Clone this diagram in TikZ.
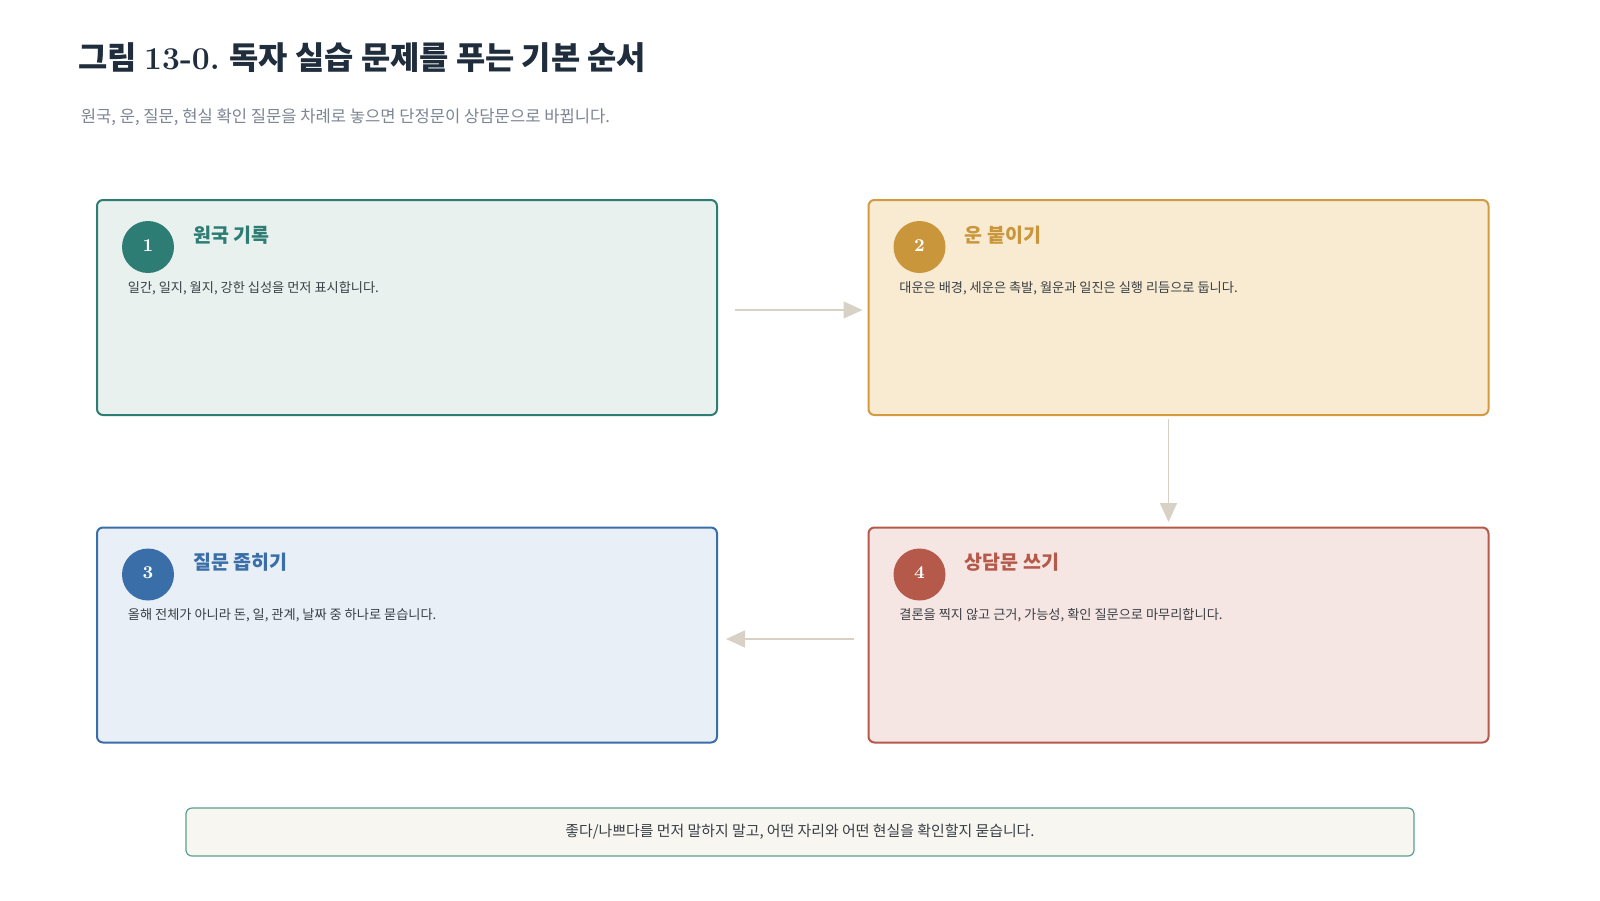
\documentclass[tikz,border=0pt]{standalone}
\usepackage{fontspec}
\newfontfamily\kr{Noto Sans CJK KR}
\usetikzlibrary{arrows.meta}
\definecolor{titlec}{HTML}{1F2D3D}
\definecolor{subc}{HTML}{7C8593}
\definecolor{descc}{HTML}{3A3F45}
\definecolor{tealc}{HTML}{2E7D74}
\definecolor{tealf}{HTML}{E8F1EE}
\definecolor{goldc}{HTML}{C9963C}
\definecolor{goldb}{HTML}{D49A42}
\definecolor{goldf}{HTML}{F8EBD2}
\definecolor{bluec}{HTML}{3A6EA8}
\definecolor{bluef}{HTML}{E9EFF7}
\definecolor{redc}{HTML}{B55A4A}
\definecolor{redf}{HTML}{F6E6E3}
\definecolor{arrc}{HTML}{D8D2C6}
\definecolor{notef}{HTML}{F7F6F1}
\definecolor{noteb}{HTML}{5A9E94}
\newcommand{\dg}[1]{\raisebox{1.5pt}{#1}}
\tikzset{
  stepbox/.style={draw, line width=1pt, rounded corners=3pt, minimum width=310pt, minimum height=107.5pt, inner sep=0pt},
  numdot/.style={circle, minimum size=26pt, inner sep=0pt, text=white, font=\rmfamily\bfseries\fontsize{9}{9}\selectfont},
  headtxt/.style={anchor=west, inner sep=0pt, font=\kr\bfseries\fontsize{9.75}{9.75}\selectfont},
  desctxt/.style={anchor=west, inner sep=0pt, text=descc, font=\kr\fontsize{6.6}{6.6}\selectfont},
  flow/.style={draw=arrc, line width=0.75pt, -{Triangle[length=9.5pt, width=8.5pt]}}
}
\begin{document}
\begin{tikzpicture}[x=0.5pt, y=-0.5pt]
\useasboundingbox[fill=white] (0,0) rectangle (1600,900);
% title
\node[anchor=west, inner sep=0pt, text=titlec, font=\kr\bfseries\fontsize{15.9}{15.9}\selectfont] (title) at (78,58) {그림 {\rmfamily\bfseries 13-0.} 독자 실습 문제를 푸는 기본 순서};
\node[anchor=west, inner sep=0pt, text=subc, font=\kr\fontsize{8.3}{8.3}\selectfont] (sub) at (80.5,117) {원국, 운, 질문, 현실 확인 질문을 차례로 놓으면 단정문이 상담문으로 바뀝니다.};
% boxes
\node[stepbox, draw=tealc, fill=tealf] (b1) at (407,307.5) {};
\node[stepbox, draw=goldb, fill=goldf] (b2) at (1178.5,307.5) {};
\node[stepbox, draw=bluec, fill=bluef] (b3) at (407,635) {};
\node[stepbox, draw=redc, fill=redf] (b4) at (1178.5,635) {};
% box 1
\node[numdot, fill=tealc] (n1) at (148,247) {\dg{1}};
\node[headtxt, text=tealc] (h1) at (193,235) {원국 기록};
\node[desctxt] (d1) at (127.5,288) {일간, 일지, 월지, 강한 십성을 먼저 표시합니다.};
% box 2
\node[numdot, fill=goldc] (n2) at (919.5,247) {\dg{2}};
\node[headtxt, text=goldc] (h2) at (964.5,235) {운 붙이기};
\node[desctxt] (d2) at (899,288) {대운은 배경, 세운은 촉발, 월운과 일진은 실행 리듬으로 둡니다.};
% box 3
\node[numdot, fill=bluec] (n3) at (148,574.5) {\dg{3}};
\node[headtxt, text=bluec] (h3) at (193,562.5) {질문 좁히기};
\node[desctxt] (d3) at (127.5,615.5) {올해 전체가 아니라 돈, 일, 관계, 날짜 중 하나로 묻습니다.};
% box 4
\node[numdot, fill=redc] (n4) at (919.5,574.5) {\dg{4}};
\node[headtxt, text=redc] (h4) at (964.5,562.5) {상담문 쓰기};
\node[desctxt] (d4) at (899,615.5) {결론을 찍지 않고 근거, 가능성, 확인 질문으로 마무리합니다.};
% connectors
\draw[flow, shorten <=8.5pt, shorten >=2.5pt] ([yshift=-1.25pt]b1.east) -- ([yshift=-1.25pt]b2.west);
\draw[flow, shorten <=1.5pt, shorten >=2.25pt] ([xshift=-5pt]b2.south) -- ([xshift=-5pt]b4.north);
\draw[flow, shorten <=7pt, shorten >=4pt] ([yshift=-2pt]b4.west) -- ([yshift=-2pt]b3.east);
% note
\node[draw=noteb, fill=notef, line width=0.6pt, rounded corners=3pt, minimum width=614pt, minimum height=24pt, inner sep=0pt, text=descc, font=\kr\fontsize{7.45}{7.45}\selectfont] (note) at (800,832) {좋다/나쁘다를 먼저 말하지 말고, 어떤 자리와 어떤 현실을 확인할지 묻습니다.};
\end{tikzpicture}
\end{document}
